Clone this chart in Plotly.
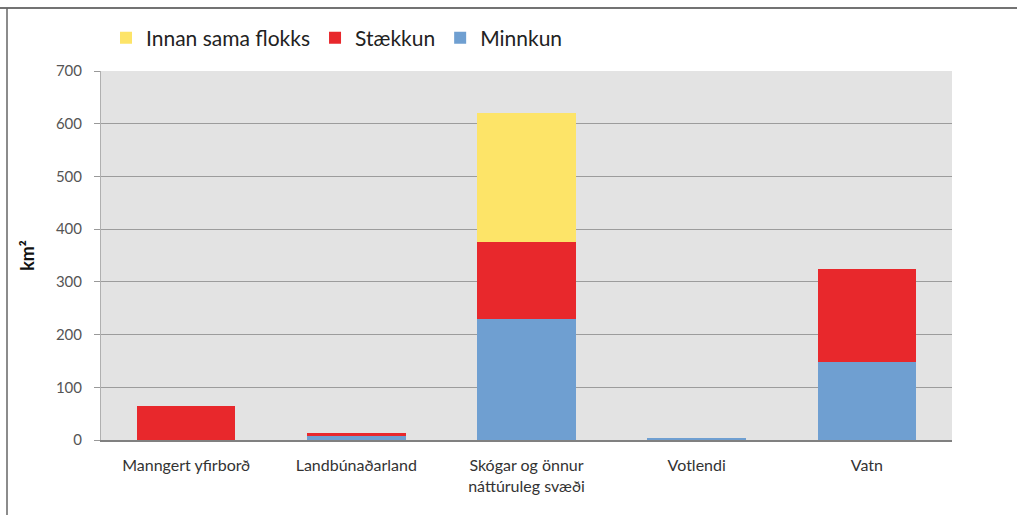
import plotly.graph_objects as go

categories = ["Manngert yfirborð", "Landbúnaðarland", "Skógar og önnur<br>náttúruleg svæði", "Votlendi", "Vatn"]
minnkun = [0, 8, 229, 4, 148]
staekkun = [64, 6, 147, 0, 177]
innan = [0, 0, 245, 0, 0]
y_ticks = [0, 100, 200, 300, 400, 500, 600, 700]

L, R, T, B = 101, 65, 71, 75
PW, PH = 1017 - L - R, 515 - T - B

fig = go.Figure()
fig.add_trace(go.Bar(x=categories, y=minnkun, name="Minnkun", marker_color="#6f9fd1", marker_line_width=0))
fig.add_trace(go.Bar(x=categories, y=staekkun, name="Stækkun", marker_color="#e8282c", marker_line_width=0))
fig.add_trace(go.Bar(x=categories, y=innan, name="Innan sama flokks", marker_color="#fde468", marker_line_width=0))

fig.update_layout(
    barmode="stack",
    bargap=0.42,
    width=1017, height=515, autosize=False,
    margin=dict(l=L, r=R, t=T, b=B, autoexpand=False),
    paper_bgcolor="white",
    plot_bgcolor="#e3e3e3",
    font=dict(family="Lato, Open Sans, sans-serif", color="#444"),
    showlegend=True,
    legend=dict(orientation="h", traceorder="reversed", xref="paper", yref="paper",
                x=(106 - L) / PW, y=1 + (T - 38) / PH, xanchor="left", yanchor="middle",
                font=dict(size=21, color="#222"), itemwidth=30, bgcolor="rgba(0,0,0,0)"),
    xaxis=dict(showline=True, linecolor="#808080", linewidth=1.5, ticks="outside", ticklen=10,
               tickcolor="rgba(0,0,0,0)",
               tickfont=dict(size=16, color="#333"), showgrid=False),
    yaxis=dict(range=[0, 700], tickvals=y_ticks, showgrid=True, gridcolor="#9c9c9c", gridwidth=1,
               showline=True, linecolor="#b0b0b0", ticks="outside", ticklen=6, tickcolor="#999",
               ticklabelstandoff=9,
               tickfont=dict(size=15, color="#555"), zeroline=False,
               title=dict(text="<b>km²</b>", font=dict(size=18, color="#111"), standoff=16)),
    shapes=[
        dict(type="line", xref="paper", yref="paper", x0=-L / PW, x1=1.2, y0=1 + (T - 8) / PH, y1=1 + (T - 8) / PH,
             line=dict(color="#444", width=1.5)),
        dict(type="line", xref="paper", yref="paper", x0=-(L - 7) / PW, x1=-(L - 7) / PW, y0=-0.3, y1=1 + (T - 8) / PH,
             line=dict(color="#666", width=1.5)),
    ],
)

fig.write_html("out.html", config={"displayModeBar": False},
               post_script="document.body.style.margin='0';document.body.style.overflow='hidden';")
